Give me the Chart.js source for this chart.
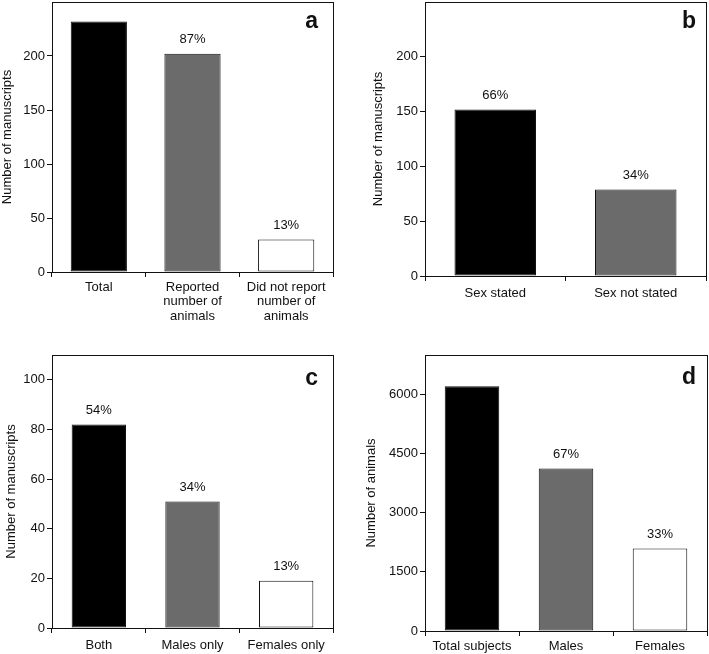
<!DOCTYPE html>
<html>
<head>
<meta charset="utf-8">
<script src="https://cdn.jsdelivr.net/npm/chart.js@4/dist/chart.umd.min.js"></script>
<style>
  body{margin:0;background:#fff;}
  #wrap{position:relative;width:709px;height:654px;}
  canvas{position:absolute;}
</style>
</head>
<body>
<div id="wrap">
  <canvas id="chartA" width="354" height="330" style="left:0;top:0"></canvas>
  <canvas id="chartB" width="355" height="330" style="left:354px;top:0"></canvas>
  <canvas id="chartC" width="354" height="324" style="left:0;top:330px"></canvas>
  <canvas id="chartD" width="355" height="324" style="left:354px;top:330px"></canvas>
</div>
<script>
// data
const labelsA = ["Total", ["Reported","number of","animals"], ["Did not report","number of","animals"]];
const valuesA = [232, 202, 30];
const pctA = ["", "87%", "13%"];
const ticksA = [0, 50, 100, 150, 200];

const labelsB = ["Sex stated", "Sex not stated"];
const valuesB = [152, 79];
const pctB = ["66%", "34%"];
const ticksB = [0, 50, 100, 150, 200];

const labelsC = ["Both", "Males only", "Females only"];
const valuesC = [82, 51, 19];
const pctC = ["54%", "34%", "13%"];
const ticksC = [0, 20, 40, 60, 80, 100];

const labelsD = ["Total subjects", "Males", "Females"];
const valuesD = [6210, 4120, 2090];
const pctD = ["", "67%", "33%"];
const ticksD = [0, 1500, 3000, 4500, 6000];

const barColors3 = ["#000000", "#6b6b6b", "#ffffff"];
const FONT = "'Liberation Sans', Arial, sans-serif";
const INK = "#111111";

// frame, percentages and panel letter
const extras = {
    id: "extras",
    afterDatasetsDraw(chart, args, opts) {
        const ctx = chart.ctx;
        const a = chart.chartArea;
        ctx.save();
        ctx.strokeStyle = INK;
        ctx.lineWidth = 1;
        ctx.strokeRect(Math.round(a.left) + 0.5, Math.round(a.top) + 0.5,
            Math.round(a.right - a.left), Math.round(a.bottom - a.top));

        ctx.fillStyle = INK;
        ctx.font = "13px " + FONT;
        ctx.textAlign = "center";
        ctx.textBaseline = "middle";
        const meta = chart.getDatasetMeta(0);
        meta.data.forEach(function (bar, i) {
            if (opts.pct[i]) ctx.fillText(opts.pct[i], bar.x, bar.y - 14);
        });

        ctx.font = "bold 23px " + FONT;
        ctx.textAlign = "right";
        ctx.textBaseline = "alphabetic";
        ctx.fillText(opts.letter, a.right - opts.letterDx, a.top + opts.letterDy);
        ctx.restore();
    }
};

function makePanel(id, labels, values, pct, letter, yTitle, yMax, tickVals, box) {
    const canvas = document.getElementById(id);
    new Chart(canvas, {
        type: "bar",
        data: {
            labels: labels,
            datasets: [{
                data: values,
                backgroundColor: barColors3.slice(0, values.length),
                borderColor: INK,
                borderWidth: 1,
                borderSkipped: false,
                categoryPercentage: box.cat,
                barPercentage: 1
            }]
        },
        options: {
            responsive: false,
            animation: false,
            devicePixelRatio: 1,
            layout: {padding: {top: box.top, right: canvas.width - box.right, left: 0, bottom: 0}},
            plugins: {
                legend: {display: false},
                tooltip: {enabled: false},
                extras: {pct: pct, letter: letter, letterDx: box.ldx, letterDy: box.ldy}
            },
            scales: {
                x: {
                    grid: {display: true, drawOnChartArea: false, offset: true, tickLength: 5, color: INK},
                    border: {display: true, color: INK, width: 1},
                    ticks: {color: INK, font: {family: FONT, size: 13, lineHeight: 1.12}, padding: box.xpad, maxRotation: 0, autoSkip: false},
                    afterFit: function (s) {
                        s.height = canvas.height - box.bottom;
                        s.paddingLeft = 0; s.paddingRight = 0;
                    }
                },
                y: {
                    min: 0,
                    max: yMax,
                    grid: {display: true, drawOnChartArea: false, tickLength: 5, color: INK},
                    border: {display: true, color: INK, width: 1},
                    ticks: {color: INK, font: {family: FONT, size: 13}, padding: 2,
                        callback: function (v) { return String(v); }},
                    title: {display: true, text: yTitle, color: INK, font: {family: FONT, size: 13, lineHeight: 1.2}, padding: {top: box.tpad, bottom: 0}},
                    afterBuildTicks: function (s) {
                        s.ticks = tickVals.map(function (v) { return {value: v}; });
                    },
                    afterFit: function (s) {
                        s.width = box.left;
                        s.paddingTop = 0; s.paddingBottom = 0;
                    }
                }
            }
        },
        plugins: [extras]
    });
}

makePanel("chartA", labelsA, valuesA, pctA, "a", "Number of manuscripts", 250, ticksA,
    {left: 52, right: 333, top: 2, bottom: 272, cat: 0.6, xpad: 3, tpad: 0, ldx: 15, ldy: 26});
makePanel("chartB", labelsB, valuesB, pctB, "b", "Number of manuscripts", 250, ticksB,
    {left: 71, right: 352, top: 2, bottom: 276, cat: 0.58, xpad: 5, tpad: 17, ldx: 10, ldy: 26});
makePanel("chartC", labelsC, valuesC, pctC, "c", "Number of manuscripts", 110, ticksC,
    {left: 52, right: 333, top: 25, bottom: 298, cat: 0.58, xpad: 5, tpad: 4, ldx: 15, ldy: 30});
makePanel("chartD", labelsD, valuesD, pctD, "d", "Number of animals", 7000, ticksD,
    {left: 71, right: 353, top: 25, bottom: 301, cat: 0.58, xpad: 3, tpad: 10, ldx: 11, ldy: 29});
</script>
</body>
</html>
